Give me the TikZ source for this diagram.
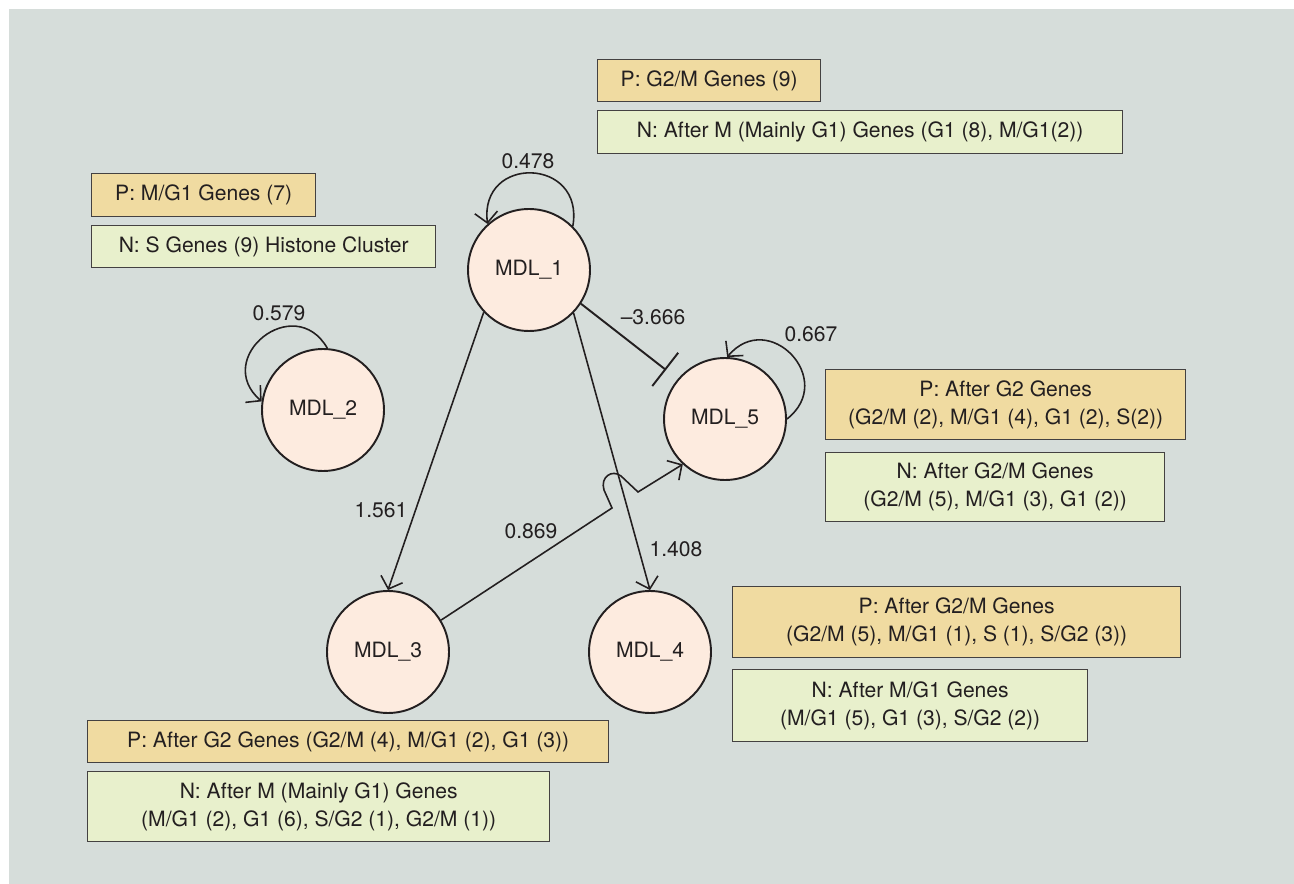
\documentclass[tikz,border=0pt]{standalone}
\usepackage{fontspec}
\setmainfont{TeX Gyre Heros}
\usetikzlibrary{arrows.meta}
\definecolor{bgcol}{HTML}{D6DDDA}
\definecolor{pcol}{HTML}{F0DBA1}
\definecolor{ncol}{HTML}{E8F0CC}
\definecolor{mdlcol}{HTML}{FDEBDF}
\definecolor{inkcol}{HTML}{231F20}

\begin{document}
\begin{tikzpicture}[x=0.02cm, y=-0.02cm, font=\fontsize{12}{16}\selectfont, text=inkcol,
		mdl/.style={circle, draw=inkcol, line width=1.1pt, fill=mdlcol, minimum size=2.44cm, inner sep=0pt},
		pbox/.style={draw=inkcol!85, line width=0.8pt, fill=pcol, anchor=north west, align=center, inner sep=0pt},
		nbox/.style={pbox, fill=ncol},
		link/.style={draw=inkcol, line width=0.9pt, -{Straight Barb[length=6pt, width=13pt]}},
		inhibit/.style={draw=inkcol, line width=1.1pt, -{Bar[width=24pt, line width=1.1pt]}},
		weight/.style={inner sep=0pt}]
		\useasboundingbox (0,0) rectangle (1294,884);
		\fill[bgcol] (9,9) rectangle (1294,884);

		\node[mdl] (one) at (529,270) {MDL\_1};
		\node[mdl] (two) at (323,410) {MDL\_2};
		\node[mdl] (three) at (388,652) {MDL\_3};
		\node[mdl] (four) at (650,652) {MDL\_4};
		\node[mdl] (five) at (725,419) {MDL\_5};

		\node[pbox, minimum width=4.46cm, minimum height=0.84cm] (pone) at (597,59) {P: G2/M Genes (9)};
		\node[nbox, minimum width=10.5cm, minimum height=0.86cm] (none) at (597,110) {N: After M (Mainly G1) Genes (G1 (8), M/G1(2))};
		\node[pbox, minimum width=4.48cm, minimum height=0.86cm] (ptwo) at (91,173) {P: M/G1 Genes (7)};
		\node[nbox, minimum width=6.88cm, minimum height=0.84cm] (ntwo) at (91,225) {N: S Genes (9) Histone Cluster};
		\node[pbox, minimum width=7.2cm, minimum height=1.4cm] (pfive) at (825,369) {P: After G2 Genes\\(G2/M (2), M/G1 (4), G1 (2), S(2))};
		\node[nbox, minimum width=6.78cm, minimum height=1.38cm] (nfive) at (825,452) {N: After G2/M Genes\\(G2/M (5), M/G1 (3), G1 (2))};
		\node[pbox, minimum width=8.96cm, minimum height=1.42cm] (pfour) at (732,586) {P: After G2/M Genes\\(G2/M (5), M/G1 (1), S (1), S/G2 (3))};
		\node[nbox, minimum width=7.1cm, minimum height=1.44cm] (nfour) at (732,669) {N: After M/G1 Genes\\(M/G1 (5), G1 (3), S/G2 (2))};
		\node[pbox, minimum width=10.42cm, minimum height=0.84cm] (pthree) at (87,720) {P: After G2 Genes (G2/M (4), M/G1 (2), G1 (3))};
		\node[nbox, minimum width=9.24cm, minimum height=1.4cm] (nthree) at (87,771) {N: After M (Mainly G1) Genes\\(M/G1 (2), G1 (6), S/G2 (1), G2/M (1))};

		\draw[link] (one.45) to[out=80, in=97, looseness=2.1] (one.132);
		\draw[link] (two.86) to[out=120, in=139, looseness=2] (two.172);
		\draw[link] (five.0) to[out=38, in=50, looseness=1.9] (five.88);
		\draw[link] (one.223) -- (three.north);
		\draw[link] (one.-44) -- (four.north);
		\coordinate (stop) at (666,370);
		\draw[inhibit] (one.-33) -- (stop);
		\draw[link] (three.31) -- (612,508) -- (604,490) .. controls (600,477) and (612,469) .. (621,476) -- (638,492) -- (five.227);

		\node[weight] (wone) at (528,161) {0.478};
		\node[weight] (wtwo) at (279,313) {0.579};
		\node[weight] (wfive) at (811,334) {0.667};
		\node[weight] (wstop) at (653,317) {\textendash3.666};
		\node[weight] (wthree) at (381,510) {1.561};
		\node[weight] (wjump) at (531,531) {0.869};
		\node[weight] (wfour) at (676,549) {1.408};
	\end{tikzpicture}
\end{document}
